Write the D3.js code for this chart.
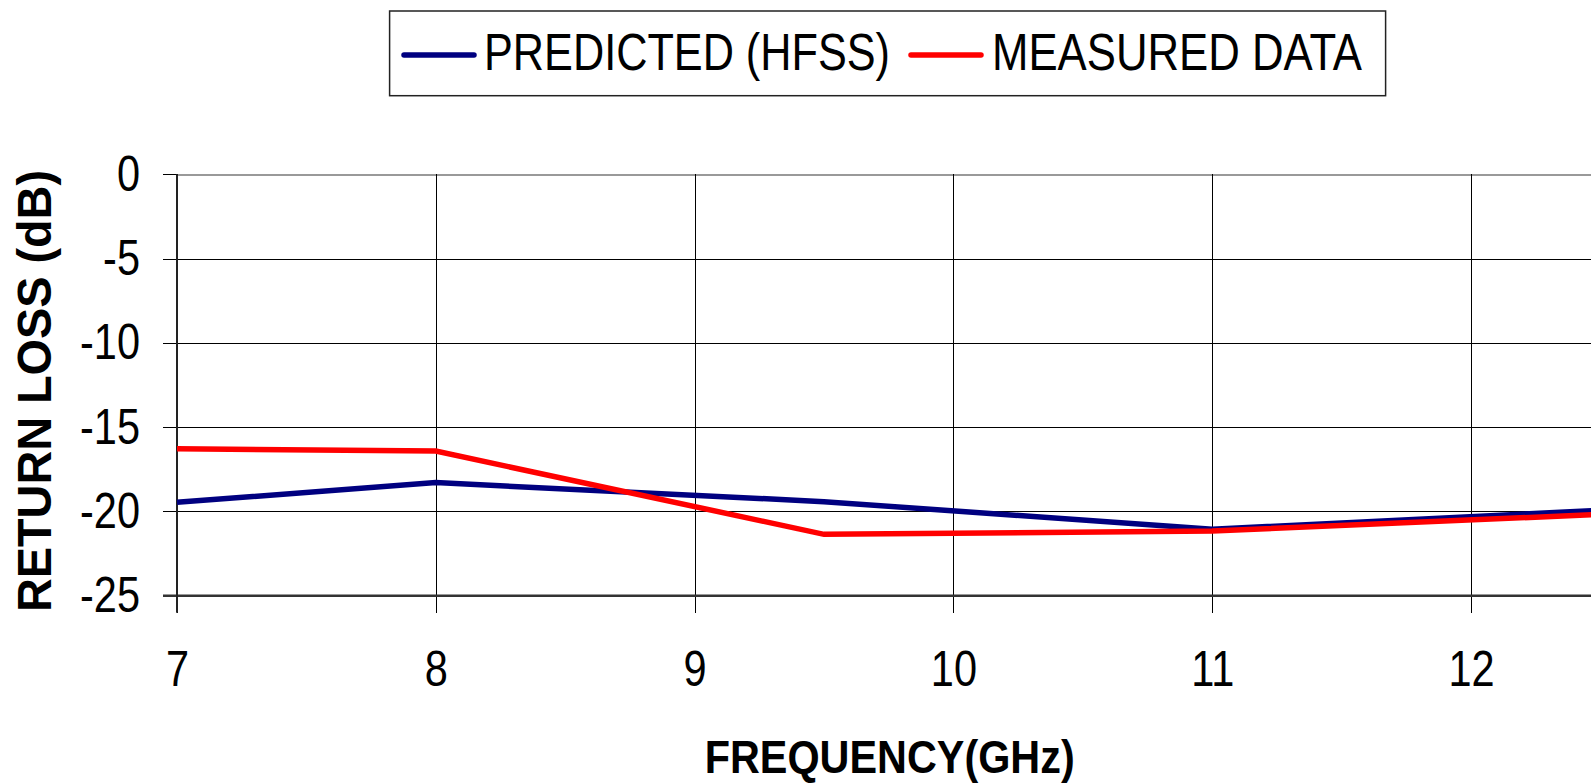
<!DOCTYPE html>
<html>
<head>
<meta charset="utf-8">
<script src="https://cdn.jsdelivr.net/npm/d3@7"></script>
<style>
  html, body { margin: 0; padding: 0; background: #fff; }
  svg { display: block; }
</style>
</head>
<body>
<svg id="chart" width="1591" height="783"></svg>
<script>
// ---- data ----
const freqs = [7, 8, 9.5, 11, 12.5];
const predicted = [-19.46, -18.29, -19.42, -21.06, -19.93];
const measured = [-16.28, -16.42, -21.36, -21.16, -20.18];
const xTicks = [7, 8, 9, 10, 11, 12];
const yTicks = [0, -5, -10, -15, -20, -25];
const seriesNames = ["PREDICTED (HFSS)", "MEASURED DATA"];
const seriesColors = ["#000080", "#ff0000"];
const xTitle = "FREQUENCY(GHz)";
const yTitle = "RETURN LOSS (dB)";

// ---- layout ----
const W = 1591, H = 783;
const plotLeft = 177, plotTop = 174.3, plotBottom = 595.7;
const step = 258.8;
const svg = d3.select("#chart");
svg.append("rect").attr("width", W).attr("height", H).attr("fill", "#fff");

const x = d3.scaleLinear().domain([7, 13]).range([plotLeft, plotLeft + 6 * step]);
const y = d3.scaleLinear().domain([-25, 0]).range([plotBottom, plotTop]);

const tickFont = "'Liberation Sans', Arial, sans-serif";
const fmt = d => String(d);

function condense(sel, factor) {
  sel.each(function () {
    const len = this.getComputedTextLength();
    d3.select(this).attr("textLength", len * factor).attr("lengthAdjust", "spacingAndGlyphs");
  });
}

// grid lines
const yGrid = svg.append("g").attr("transform", `translate(${plotLeft},0)`)
  .call(d3.axisLeft(y).tickValues(yTicks).tickSize(-(W - plotLeft)).tickFormat(""));
yGrid.select(".domain").remove();
yGrid.selectAll(".tick line").attr("stroke", "#000").attr("stroke-width", 1)
  .attr("shape-rendering", "crispEdges");
yGrid.selectAll(".tick").filter(d => d === 0).select("line").attr("stroke", "#999").attr("stroke-width", 2);
yGrid.selectAll(".tick").filter(d => d === -25).select("line").attr("stroke", "#333").attr("stroke-width", 2);

const xGrid = svg.append("g").attr("transform", `translate(0,${plotBottom})`)
  .call(d3.axisBottom(x).tickValues(xTicks).tickSize(-(plotBottom - plotTop)).tickFormat(""));
xGrid.select(".domain").remove();
xGrid.selectAll(".tick line").attr("stroke", "#000").attr("stroke-width", 1)
  .attr("shape-rendering", "crispEdges");

// axes
const yAxis = svg.append("g").attr("transform", `translate(${plotLeft},0)`)
  .call(d3.axisLeft(y).tickValues(yTicks).tickFormat(fmt).tickSize(14).tickPadding(23));
yAxis.select(".domain").remove();
yAxis.selectAll(".tick line").attr("stroke", "#000").attr("shape-rendering", "crispEdges");
yAxis.selectAll("text").attr("font-family", tickFont).attr("font-size", 50).attr("fill", "#000")
  .call(condense, 0.83);

const xAxis = svg.append("g").attr("transform", `translate(0,${plotBottom})`)
  .call(d3.axisBottom(x).tickValues(xTicks).tickFormat(fmt).tickSize(17).tickPadding(38));
xAxis.select(".domain").remove();
xAxis.selectAll(".tick line").attr("stroke", "#000").attr("shape-rendering", "crispEdges");
xAxis.selectAll("text").attr("font-family", tickFont).attr("font-size", 50).attr("fill", "#000")
  .call(condense, 0.83);

// bottom axis line
svg.append("line").attr("x1", plotLeft - 14).attr("x2", W).attr("y1", y(-25)).attr("y2", y(-25))
  .attr("stroke", "#333").attr("stroke-width", 2.5);
// left axis line
svg.append("line").attr("x1", plotLeft).attr("x2", plotLeft).attr("y1", plotTop).attr("y2", plotBottom + 17)
  .attr("stroke", "#222").attr("stroke-width", 2);

// series
const line = d3.line().x(d => x(d[0])).y(d => y(d[1]));
[predicted, measured].forEach((vals, i) => {
  svg.append("path")
    .datum(freqs.map((f, j) => [f, vals[j]]))
    .attr("d", line)
    .attr("fill", "none")
    .attr("stroke", seriesColors[i])
    .attr("stroke-width", 5.5)
    .attr("stroke-linejoin", "miter");
});

// titles
svg.append("text")
  .attr("x", 889.7).attr("y", 773)
  .attr("text-anchor", "middle")
  .attr("font-family", "'Liberation Sans', Arial, sans-serif")
  .attr("font-weight", "bold").attr("font-size", 47)
  .attr("textLength", 370).attr("lengthAdjust", "spacingAndGlyphs")
  .text(xTitle);

svg.append("text")
  .attr("transform", "translate(51,391) rotate(-90)")
  .attr("text-anchor", "middle")
  .attr("font-family", "'Liberation Sans', Arial, sans-serif")
  .attr("font-weight", "bold").attr("font-size", 48)
  .attr("textLength", 442).attr("lengthAdjust", "spacingAndGlyphs")
  .text(yTitle);

// legend
const lg = svg.append("g");
lg.append("rect").attr("x", 389.6).attr("y", 11).attr("width", 996).attr("height", 84.7)
  .attr("fill", "#fff").attr("stroke", "#222").attr("stroke-width", 1.5);
const legendItems = [
  { x1: 404, x2: 474, tx: 484, tl: 406 },
  { x1: 911, x2: 981, tx: 992, tl: 370 }
];
legendItems.forEach((it, i) => {
  lg.append("line").attr("x1", it.x1).attr("x2", it.x2).attr("y1", 55).attr("y2", 55)
    .attr("stroke", seriesColors[i]).attr("stroke-width", 5.5).attr("stroke-linecap", "round");
  lg.append("text").attr("x", it.tx).attr("y", 70)
    .attr("font-family", tickFont).attr("font-size", 52)
    .attr("textLength", it.tl).attr("lengthAdjust", "spacingAndGlyphs")
    .text(seriesNames[i]);
});
</script>
</body>
</html>
